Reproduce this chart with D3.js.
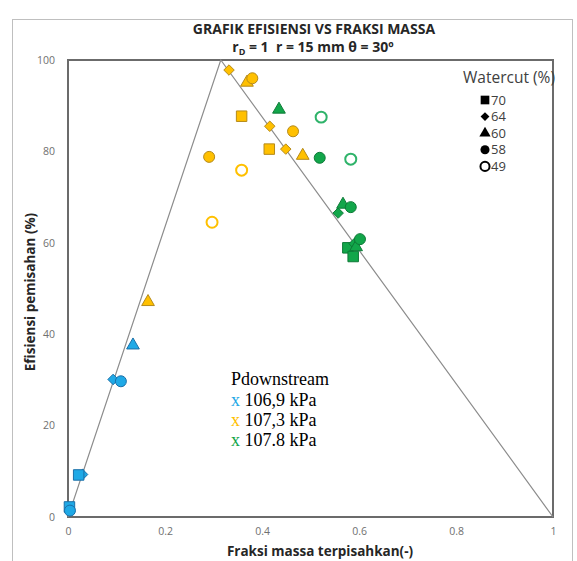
<!DOCTYPE html>
<html>
<head>
<meta charset="utf-8">
<script src="https://cdn.jsdelivr.net/npm/d3@7"></script>
<style>
  body { margin: 0; background: #fff; }
  svg { display: block; }
</style>
</head>
<body>
<svg id="chart" width="577" height="561"></svg>
<script>
// values: [fraksi massa, efisiensi, watercut]
var p1069 = [
  [0.003, 2.2, 70], [0.004, 1.4, 58], [0.030, 9.3, 64], [0.022, 9.2, 70],
  [0.093, 30.1, 64], [0.109, 29.7, 58], [0.134, 37.9, 60]
];
var p1073 = [
  [0.165, 47.4, 60], [0.291, 78.8, 58], [0.297, 64.5, 49], [0.332, 97.8, 64],
  [0.369, 95.4, 60], [0.380, 96.0, 58], [0.358, 87.7, 70], [0.358, 75.9, 49],
  [0.416, 85.5, 64], [0.464, 84.4, 58], [0.415, 80.5, 70], [0.449, 80.5, 64],
  [0.484, 79.4, 60]
];
var p1078 = [
  [0.435, 89.5, 60], [0.522, 87.5, 49], [0.519, 78.6, 58], [0.583, 78.3, 49],
  [0.557, 66.5, 64], [0.567, 68.7, 60], [0.583, 67.8, 58],
  [0.577, 58.9, 70], [0.588, 57.0, 70], [0.590, 59.8, 64], [0.594, 59.4, 60],
  [0.602, 60.8, 58]
];
var batasX = [0, 0.315, 1];
var batasY = [0, 100, 0];
var xTicks = [0, 0.2, 0.4, 0.6, 0.8, 1];
var yTicks = [0, 20, 40, 60, 80, 100];
var watercut = [70, 64, 60, 58, 49];
var tekanan = ["106,9 kPa", "107,3 kPa", "107.8 kPa"];

var svg = d3.select("#chart"),
    margin = {top: 60, right: 24, bottom: 44, left: 68},
    width = +svg.attr("width") - margin.left - margin.right,
    height = +svg.attr("height") - margin.top - margin.bottom;

var warna = [
  {fill: "#1fa9e6", stroke: "#1a6fa8", open: "#1fa9e6"},
  {fill: "#ffc000", stroke: "#b58a1a", open: "#ffc000"},
  {fill: "#12a64a", stroke: "#0d7a37", open: "#2fb36a"}
];

// outer chart frame
svg.append("rect")
    .attr("x", 12.5).attr("y", 19.5)
    .attr("width", 560).attr("height", 560)
    .attr("fill", "none").attr("stroke", "#bfbfbf");

svg.append("text")
    .attr("x", 314).attr("y", 34)
    .attr("text-anchor", "middle")
    .style("font", "bold 14px 'Open Sans', sans-serif")
    .style("fill", "#262626")
    .text("GRAFIK EFISIENSI VS FRAKSI MASSA");

var sub = svg.append("text")
    .attr("x", 313).attr("y", 52)
    .attr("text-anchor", "middle")
    .style("font", "bold 14px 'Open Sans', sans-serif")
    .style("fill", "#262626");
sub.append("tspan").text("r");
sub.append("tspan").attr("dy", 3).style("font-size", "9px").text("D");
sub.append("tspan").attr("dy", -3).text(" = 1\u00a0 r = 15 mm θ = 30º");

var x = d3.scaleLinear().domain([0, 1]).range([0, width]);
var y = d3.scaleLinear().domain([0, 100]).range([height, 0]);

var g = svg.append("g")
    .attr("transform", "translate(" + margin.left + "," + margin.top + ")");

g.append("g")
    .attr("transform", "translate(0," + height + ")")
    .call(d3.axisBottom(x).tickValues(xTicks).tickSize(0).tickPadding(11)
        .tickFormat(function(d) { return d === 0 || d === 1 ? d : d3.format(".1f")(d); }))
    .call(function(a) { a.select(".domain").remove(); })
    .selectAll("text")
    .style("font", "10.5px 'Open Sans', sans-serif")
    .style("fill", "#707070");

g.append("g")
    .call(d3.axisLeft(y).tickValues(yTicks).tickSize(0).tickPadding(13))
    .call(function(a) { a.select(".domain").remove(); })
    .selectAll("text")
    .style("font", "10.5px 'Open Sans', sans-serif")
    .style("fill", "#707070");

// plot area border
g.append("rect")
    .attr("width", width).attr("height", height)
    .attr("fill", "none")
    .attr("stroke", "#6b6b6b")
    .attr("stroke-width", 2);

var garis = d3.line()
    .x(function(d) { return x(d[0]); })
    .y(function(d) { return y(d[1]); });

g.append("path")
    .datum(d3.zip(batasX, batasY))
    .attr("d", garis)
    .attr("fill", "none")
    .attr("stroke", "#8c8c8c")
    .attr("stroke-width", 1.2);

function bentuk(wc) {
  if (wc == 70) return d3.symbol(d3.symbolSquare, 110)();
  if (wc == 64) return d3.symbol(d3.symbolDiamond2, 70)();
  if (wc == 60) return d3.symbol(d3.symbolTriangle, 70)();
  return d3.symbol(d3.symbolCircle, 95)();
}

[p1069, p1073, p1078].forEach(function(seri, i) {
  var c = warna[i];
  g.append("g").selectAll("path")
      .data(seri)
      .enter().append("path")
      .attr("transform", function(d) {
        var dy = d[2] == 60 ? 1.5 : 0;
        return "translate(" + x(d[0]) + "," + (y(d[1]) + dy) + ")";
      })
      .attr("d", function(d) { return bentuk(d[2]); })
      .attr("fill", function(d) { return d[2] == 49 ? "#fff" : c.fill; })
      .attr("stroke", function(d) { return d[2] == 49 ? c.open : c.stroke; })
      .attr("stroke-width", function(d) { return d[2] == 49 ? 2 : 1; });
});

// watercut legend
svg.append("text")
    .attr("x", 509).attr("y", 83)
    .attr("text-anchor", "middle")
    .style("font", "15.5px 'Open Sans', sans-serif")
    .style("fill", "#404040")
    .text("Watercut (%)");

var leg = svg.append("g").selectAll("g")
    .data(watercut)
    .enter().append("g")
    .attr("transform", function(d, i) { return "translate(485," + (100 + i * 16.6) + ")"; });

leg.append("path")
    .attr("d", function(d) {
      if (d == 70) return d3.symbol(d3.symbolSquare, 75)();
      if (d == 64) return d3.symbol(d3.symbolDiamond2, 50)();
      if (d == 60) return d3.symbol(d3.symbolTriangle, 55)();
      return d3.symbol(d3.symbolCircle, 65)();
    })
    .attr("fill", function(d) { return d == 49 ? "#fff" : "#000"; })
    .attr("stroke", "#000")
    .attr("stroke-width", function(d) { return d == 49 ? 2 : 0; });

leg.append("text")
    .attr("x", 6).attr("dy", "0.36em")
    .style("font", "13px 'Open Sans', sans-serif")
    .style("fill", "#404040")
    .text(function(d) { return d; });

// pressure legend
var pl = svg.append("g").attr("transform", "translate(231,385)");
pl.append("text")
    .style("font", "18px 'Liberation Serif', 'Times New Roman', serif")
    .style("fill", "#000")
    .text("Pdownstream");
tekanan.forEach(function(t, i) {
  var r = pl.append("text")
      .attr("y", 20.5 + i * 20)
      .style("font", "18px 'Liberation Serif', 'Times New Roman', serif");
  r.append("tspan").style("fill", warna[i].fill).text("x ");
  r.append("tspan").style("fill", "#000").text(t);
});

// axis titles
svg.append("text")
    .attr("x", 320).attr("y", 556)
    .attr("text-anchor", "middle")
    .style("font", "bold 13.5px 'Open Sans', sans-serif")
    .style("fill", "#262626")
    .text("Fraksi massa terpisahkan(-)");

svg.append("text")
    .attr("transform", "translate(35,292) rotate(-90)")
    .attr("text-anchor", "middle")
    .style("font", "bold 13.5px 'Open Sans', sans-serif")
    .style("fill", "#262626")
    .text("Efisiensi pemisahan (%)");
</script>
</body>
</html>
